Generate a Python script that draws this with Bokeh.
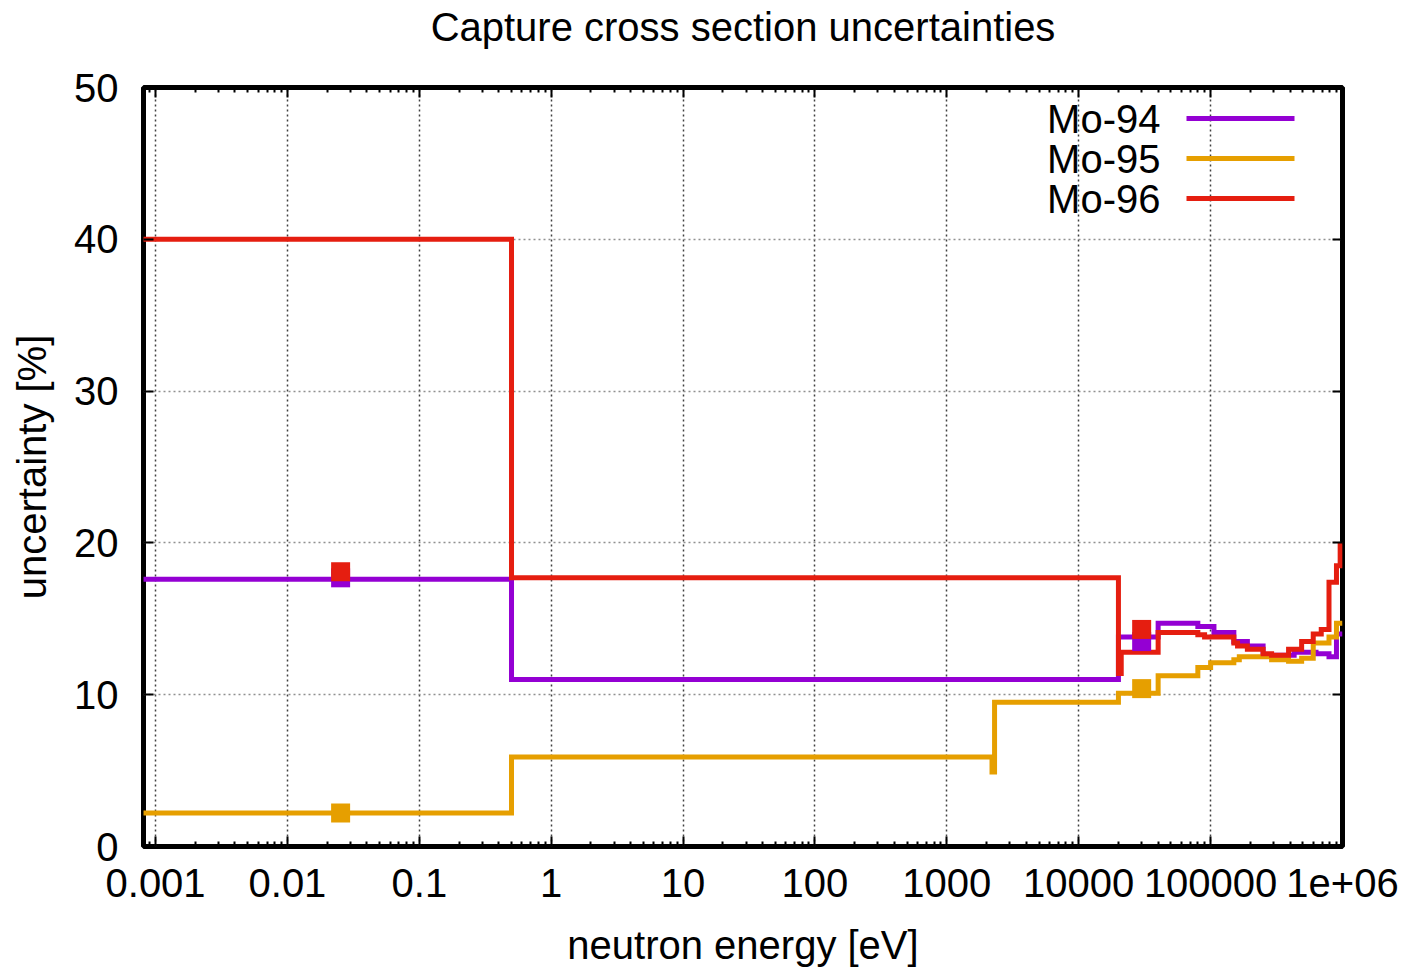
from bokeh.plotting import figure
from bokeh.models import (FixedTicker, CustomJSTickFormatter, LogAxis, LinearAxis,
                          Label, BoxAnnotation, Range1d)
from bokeh.embed import file_html
from bokeh.resources import INLINE

# ---- data: group-wise relative uncertainties of the capture cross section ----
# bin lower edges [eV] and the uncertainty [%] in each bin (last edge closes the grid)
mo94_edges = [1e-5, 0.5, 2.0e4, 4.0e4, 8.0e4, 1.06e5, 1.5e5, 1.9e5, 2.5e5, 4.3e5,
              6.3e5, 7.9e5, 9.0e5, 1.0e6]
mo94_unc = [17.6, 11.0, 13.8, 14.7, 14.5, 14.1, 13.5, 13.2, 12.6, 12.8, 12.7, 12.5, 14.0]

mo95_edges = [1e-5, 0.5, 2.2e3, 2.3e3, 2.0e4, 4.0e4, 8.0e4, 1.0e5, 1.5e5, 1.65e5,
              2.9e5, 3.9e5, 4.9e5, 6.0e5, 7.9e5, 9.0e5, 1.0e6]
mo95_unc = [2.2, 5.9, 4.9, 9.5, 10.1, 11.25, 11.8, 12.1, 12.3, 12.5, 12.3, 12.2, 12.4,
            13.4, 13.8, 14.7]

mo96_edges = [1e-5, 0.5, 2.0e4, 2.1e4, 4.0e4, 8.0e4, 9.0e4, 1.5e5, 1.6e5, 1.9e5, 2.5e5,
              2.9e5, 3.9e5, 4.9e5, 6.0e5, 6.9e5, 7.9e5, 9.0e5, 9.6e5, 1.0e6]
mo96_unc = [40.0, 17.7, 11.4, 12.8, 14.1, 13.95, 13.8, 13.4, 13.2, 13.0, 12.7, 12.6,
            13.0, 13.5, 14.0, 14.3, 17.4, 18.5, 19.9]

# point values at thermal energy and at 30 keV
point_energy = [0.0253, 3.0e4]
mo94_points = [17.7, 13.5]
mo95_points = [2.2, 10.4]
mo96_points = [18.1, 14.3]

series_names = ["Mo-94", "Mo-95", "Mo-96"]
series_colors = ["#9400d3", "#e69f00", "#e51e10"]

x_ticks = [1e-3, 1e-2, 1e-1, 1, 10, 100, 1e3, 1e4, 1e5, 1e6]
x_tick_labels = ["0.001", "0.01", "0.1", "1", "10", "100", "1000", "10000", "100000", "1e+06"]
x_minor = [m * t for t in [1e-4] + x_ticks for m in range(2, 10)]
y_ticks = [0, 10, 20, 30, 40, 50]

TITLE = "Capture cross section uncertainties"
FONT = "Liberation Sans"
FS = "40px"

p = figure(width=1404, height=969, x_axis_type="log",
           x_range=Range1d(8.1e-4, 1.0e6), y_range=Range1d(0, 50),
           output_backend="svg", toolbar_location=None,
           min_border_left=143, min_border_right=62, min_border_top=87,
           min_border_bottom=122)

p.background_fill_color = "white"
p.border_fill_color = "white"
p.outline_line_color = "black"
p.outline_line_width = 5

xticker = FixedTicker(ticks=x_ticks, minor_ticks=x_minor)
yticker = FixedTicker(ticks=y_ticks, minor_ticks=[])
xfmt = CustomJSTickFormatter(args=dict(xt=x_ticks, lab=x_tick_labels), code="""
    const i = xt.findIndex(t => Math.abs(Math.log10(t / tick)) < 1e-6);
    return i >= 0 ? lab[i] : "";
""")
blank_fmt = CustomJSTickFormatter(code='return "";')


def style_axis(ax):
    ax.axis_line_color = None
    ax.major_tick_in = 10
    ax.major_tick_out = 0
    ax.minor_tick_in = 5
    ax.minor_tick_out = 0
    ax.major_tick_line_width = 2
    ax.minor_tick_line_width = 2
    ax.major_tick_line_color = "black"
    ax.minor_tick_line_color = "black"
    ax.major_label_text_font = FONT
    ax.major_label_text_font_size = FS
    ax.major_label_text_color = "black"
    ax.axis_label_text_font = FONT
    ax.axis_label_text_font_size = FS
    ax.axis_label_text_font_style = "normal"
    ax.axis_label_text_color = "black"


xa = p.xaxis[0]
xa.ticker = xticker
xa.formatter = xfmt
xa.axis_label = "neutron energy [eV]"
style_axis(xa)
xa.major_label_standoff = 22
xa.axis_label_standoff = 23

ya = p.yaxis[0]
ya.ticker = yticker
ya.axis_label = "uncertainty [%]"
style_axis(ya)
ya.major_label_standoff = 25
ya.axis_label_standoff = 17

# mirrored tick marks on the top edge; the chart title sits above them
top_axis = LogAxis(ticker=xticker, formatter=blank_fmt, axis_label=TITLE)
style_axis(top_axis)
top_axis.major_label_standoff = 0
top_axis.axis_label_standoff = 39
p.add_layout(top_axis, "above")

right_axis = LinearAxis(ticker=yticker, formatter=blank_fmt)
style_axis(right_axis)
right_axis.major_label_standoff = 0
p.add_layout(right_axis, "right")

# dotted grid at major ticks
p.xgrid.ticker = xticker
p.ygrid.ticker = yticker
p.xgrid.grid_line_color = "#404040"
p.ygrid.grid_line_color = "#909090"
for g in (p.xgrid[0], p.ygrid[0]):
    g.grid_line_dash = "2 3"
    g.grid_line_width = 1.5

# step curves
for edges, unc, color in [(mo94_edges, mo94_unc, series_colors[0]),
                          (mo95_edges, mo95_unc, series_colors[1]),
                          (mo96_edges, mo96_unc, series_colors[2])]:
    p.step(edges, unc + [unc[-1]], mode="after", line_width=5, line_color=color,
           line_join="miter")

# point values
for pts, color in [(mo94_points, series_colors[0]),
                   (mo95_points, series_colors[1]),
                   (mo96_points, series_colors[2])]:
    p.scatter(point_energy, pts, marker="square", size=19, fill_color=color,
              line_color=color, line_width=0)

# key: names on the left, line samples on the right
# (screen units are measured from the frame's lower left corner)
for i, (name, color) in enumerate(zip(series_names, series_colors)):
    yc = 728 - 40 * i
    p.add_layout(Label(x=1017, y=yc, x_units="screen", y_units="screen", text=name,
                       text_align="right", text_baseline="middle", text_font=FONT,
                       text_font_size=FS, text_color="black"))
    p.add_layout(BoxAnnotation(left=1043, right=1151, bottom=yc - 2.5, top=yc + 2.5,
                               left_units="screen", right_units="screen",
                               bottom_units="screen", top_units="screen",
                               fill_color=color, fill_alpha=1.0, line_color=None))

open("out.html", "w").write(file_html(p, INLINE))
